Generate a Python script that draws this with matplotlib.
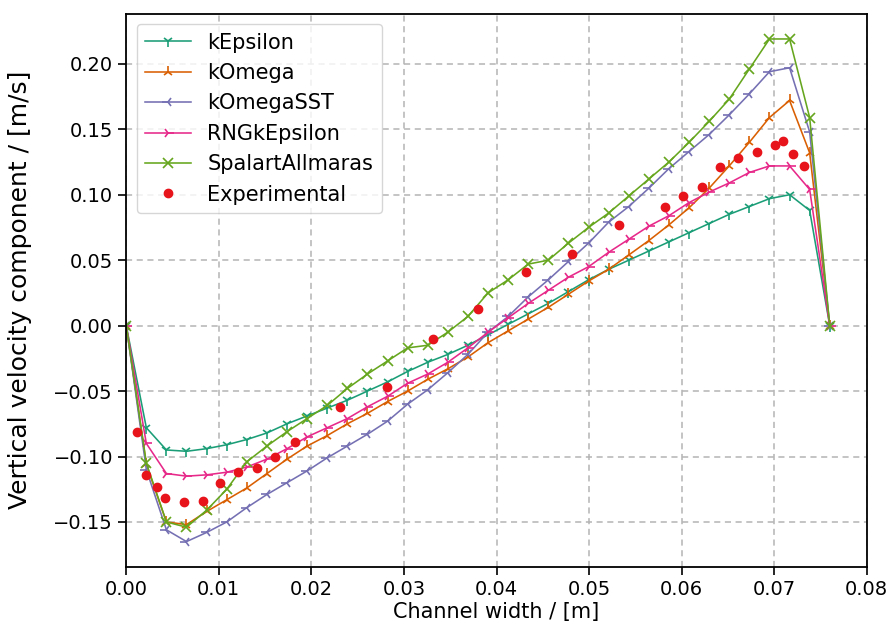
import matplotlib
matplotlib.use("Agg")
import matplotlib.pyplot as plt
from matplotlib import font_manager


# channel positions of the simulated profiles [m]
x_sim = [0.0, 0.00217, 0.00434, 0.00651, 0.00869, 0.01086, 0.01303, 0.0152,
         0.01737, 0.01954, 0.02171, 0.02389, 0.02606, 0.02823, 0.0304, 0.03257,
         0.03474, 0.03691, 0.03909, 0.04126, 0.04343, 0.0456, 0.04777, 0.04994,
         0.05211, 0.05429, 0.05646, 0.05863, 0.0608, 0.06297, 0.06514, 0.06731,
         0.06949, 0.07166, 0.07383, 0.076]

k_epsilon = [0.0, -0.078, -0.095, -0.096, -0.094, -0.091, -0.087, -0.082,
             -0.075, -0.069, -0.063, -0.057, -0.050, -0.043, -0.035, -0.028,
             -0.022, -0.015, -0.007, 0.001, 0.009, 0.017, 0.026, 0.035,
             0.043, 0.050, 0.057, 0.064, 0.071, 0.078, 0.085, 0.091,
             0.097, 0.100, 0.088, 0.0]

k_omega = [0.0, -0.106, -0.150, -0.152, -0.142, -0.133, -0.124, -0.113,
           -0.102, -0.092, -0.084, -0.075, -0.067, -0.058, -0.050, -0.041,
           -0.033, -0.024, -0.013, -0.004, 0.005, 0.014, 0.024, 0.034,
           0.043, 0.054, 0.065, 0.077, 0.090, 0.105, 0.122, 0.140,
           0.159, 0.172, 0.132, 0.0]

k_omega_sst = [0.0, -0.110, -0.156, -0.165, -0.158, -0.150, -0.139, -0.129,
               -0.120, -0.111, -0.101, -0.092, -0.083, -0.073, -0.060, -0.049,
               -0.036, -0.022, -0.005, 0.007, 0.022, 0.035, 0.049, 0.063,
               0.079, 0.091, 0.105, 0.120, 0.133, 0.146, 0.161, 0.177,
               0.194, 0.197, 0.148, 0.0]

rng_k_epsilon = [0.0, -0.090, -0.113, -0.115, -0.114, -0.112, -0.108, -0.102,
                 -0.094, -0.085, -0.078, -0.071, -0.062, -0.054, -0.044, -0.037,
                 -0.028, -0.017, -0.005, 0.006, 0.017, 0.027, 0.037, 0.045,
                 0.056, 0.066, 0.076, 0.084, 0.094, 0.102, 0.109, 0.117,
                 0.122, 0.122, 0.104, 0.0]

spalart_allmaras = [0.0, -0.105, -0.150, -0.154, -0.141, -0.125, -0.104, -0.092,
                    -0.081, -0.071, -0.061, -0.048, -0.037, -0.027, -0.017, -0.015,
                    -0.005, 0.007, 0.025, 0.035, 0.047, 0.050, 0.063, 0.075,
                    0.086, 0.099, 0.112, 0.125, 0.140, 0.156, 0.173, 0.196,
                    0.219, 0.219, 0.159, 0.0]

# measurements
x_exp = [0.0012, 0.0021, 0.0033, 0.0042, 0.0062, 0.0083, 0.0101, 0.0121,
         0.0141, 0.0161, 0.0182, 0.0231, 0.0282, 0.0331, 0.0380, 0.0432,
         0.0482, 0.0532, 0.0582, 0.0601, 0.0622, 0.0641, 0.0661, 0.0681,
         0.0701, 0.0710, 0.0720, 0.0732]
v_exp = [-0.081, -0.114, -0.123, -0.132, -0.135, -0.134, -0.120, -0.112,
         -0.109, -0.100, -0.089, -0.062, -0.047, -0.010, 0.013, 0.041,
         0.055, 0.077, 0.091, 0.099, 0.106, 0.121, 0.128, 0.133,
         0.138, 0.141, 0.131, 0.122]

models = [
    ("kEpsilon", k_epsilon, "#1b9e77", "1", 8),
    ("kOmega", k_omega, "#d95f02", "2", 8),
    ("kOmegaSST", k_omega_sst, "#7570b3", "3", 8),
    ("RNGkEpsilon", rng_k_epsilon, "#e7298a", "4", 8),
    ("SpalartAllmaras", spalart_allmaras, "#66a61e", "x", 6.5),
]


def main():
    plt.rcParams["font.family"] = ["DejaVu Sans"]
    plt.rcParams["font.size"] = 14

    # narrow face for the y label if there is one
    names = {f.name for f in font_manager.fontManager.ttflist}
    if "Liberation Sans Narrow" in names:
        ylab_font, ylab_size = "Liberation Sans Narrow", 22
    else:
        ylab_font, ylab_size = "DejaVu Sans", 18

    fig = plt.figure(figsize=(8.89, 6.29), dpi=100)
    ax = fig.add_axes([0.142, 0.099, 0.833, 0.879])

    for name, vals, color, marker, ms in models:
        ax.plot(x_sim, vals, color=color, marker=marker, lw=1.15,
                markersize=ms, markeredgewidth=1.2, label=name)
    ax.plot(x_exp, v_exp, "o", color="#e8141c", markersize=6,
            label="Experimental")

    ax.set_xlim(0, 0.08)
    ax.set_xticks([0.0, 0.01, 0.02, 0.03, 0.04, 0.05, 0.06, 0.07, 0.08])
    ax.set_yticks([-0.15, -0.10, -0.05, 0.0, 0.05, 0.10, 0.15, 0.20])
    ax.set_xlabel("Channel width / [m]", fontsize=15, labelpad=2)
    ax.set_ylabel("Vertical velocity component / [m/s]",
                  fontsize=ylab_size, family=ylab_font)
    ax.yaxis.set_label_coords(-0.127, 0.5)
    ax.grid(True, linestyle=(0, (4, 3)), color="#b4b4b4", lw=1.1)
    ax.tick_params(length=6, width=1.2)
    for s in ax.spines.values():
        s.set_linewidth(1.3)
    ax.legend(loc="upper left", fontsize=15, handlelength=2.2)

    fig.savefig("out.png", dpi=100)


if __name__ == "__main__":
    main()
